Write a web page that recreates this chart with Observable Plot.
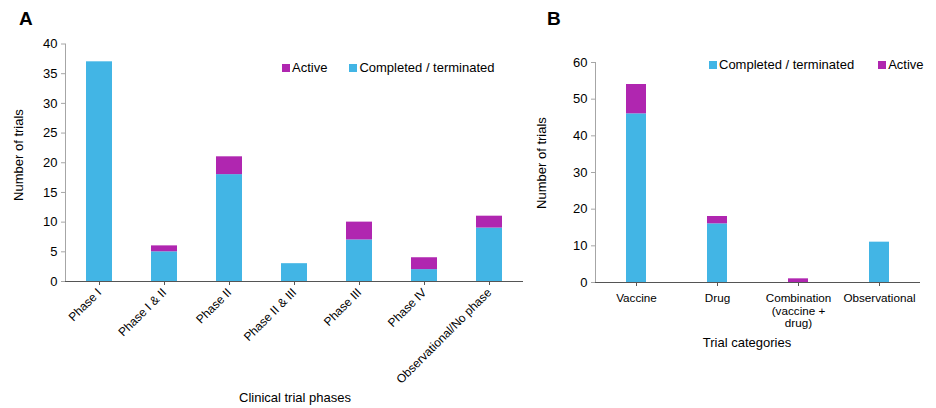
<!DOCTYPE html>
<html>
<head>
<meta charset="utf-8">
<script src="https://cdn.jsdelivr.net/npm/d3@7"></script>
<script src="https://cdn.jsdelivr.net/npm/@observablehq/plot@0.6"></script>
<style>
  body { margin: 0; background: #fff; }
  #wrap { position: relative; width: 936px; height: 408px; font-family: "Liberation Sans", Arial, sans-serif; color: #000; overflow: hidden; }
  .panel { position: absolute; top: 0; }
  .lbl { position: absolute; font-size: 13px; white-space: nowrap; }
  .big { position: absolute; font-weight: bold; font-size: 19px; }
  .sw { display: inline-block; width: 8px; height: 8px; margin-right: 2px; vertical-align: 0px; }
  .ylab { position: absolute; font-size: 13px; transform: translate(-50%, -50%) rotate(-90deg); white-space: nowrap; }
</style>
</head>
<body>
<div id="wrap"></div>
<script>
// Panel A data
const phases = ["Phase I", "Phase I & II", "Phase II", "Phase II & III", "Phase III", "Phase IV", "Observational/No phase"];
const phaseCompleted = [37, 5, 18, 3, 7, 2, 9];
const phaseActive = [0, 1, 3, 0, 3, 2, 2];
const phaseTicks = [0, 5, 10, 15, 20, 25, 30, 35, 40];

// Panel B data
const categories = ["Vaccine", "Drug", "Combination (vaccine + drug)", "Observational"];
const categoryTickLabels = ["Vaccine", "Drug", "Combination\n(vaccine +\ndrug)", "Observational"];
const catCompleted = [46, 16, 0, 11];
const catActive = [8, 2, 1, 0];
const categoryTicks = [0, 10, 20, 30, 40, 50, 60];

const series = ["Completed / terminated", "Active"];
const colors = ["#42B5E5", "#B026B0"];

function longData(cats, comp, act) {
  const out = [];
  cats.forEach((c, i) => {
    out.push({cat: c, series: series[0], value: comp[i]});
    out.push({cat: c, series: series[1], value: act[i]});
  });
  return out;
}

const wrap = document.getElementById("wrap");
const font = "Liberation Sans, Arial, sans-serif";

// Panel A
const dataA = longData(phases, phaseCompleted, phaseActive);
const chartA = Plot.plot({
  width: 530, height: 408,
  marginLeft: 65, marginRight: 7, marginTop: 43.5, marginBottom: 127,
  style: {fontFamily: font, fontSize: "12px", color: "#000", background: "transparent"},
  x: {domain: phases, paddingInner: 0.6, paddingOuter: 0.3, label: null},
  y: {domain: [0, 40], label: null},
  color: {domain: series, range: colors},
  marks: [
    Plot.barY(dataA, {x: "cat", y: "value", fill: "series", order: series}),
    Plot.frame({anchor: "left", stroke: "#a6a6a6"}),
    Plot.axisY({ticks: phaseTicks, tickSize: 4, tickPadding: 4, stroke: "#a6a6a6", fontSize: 13, label: null}),
    Plot.axisX({tickSize: 4, tickPadding: 5, tickRotate: -45, stroke: "#555", label: null, fontSize: 12}),
    Plot.ruleY([0], {stroke: "#555"})
  ]
});
const pa = document.createElement("div");
pa.className = "panel"; pa.style.left = "0px";
pa.appendChild(chartA);
wrap.appendChild(pa);

// Panel B
const dataB = longData(categories, catCompleted, catActive);
const tickMap = new Map(categories.map((c, i) => [c, categoryTickLabels[i]]));
const chartB = Plot.plot({
  width: 416, height: 408,
  marginLeft: 75, marginRight: 16, marginTop: 62, marginBottom: 126,
  style: {fontFamily: font, fontSize: "13px", color: "#000", background: "transparent"},
  x: {domain: categories, paddingInner: 0.75, paddingOuter: 0.375, label: null},
  y: {domain: [0, 60], label: null},
  color: {domain: series, range: colors},
  marks: [
    Plot.barY(dataB, {x: "cat", y: "value", fill: "series", order: series}),
    Plot.frame({anchor: "left", stroke: "#a6a6a6"}),
    Plot.axisY({ticks: categoryTicks, tickSize: 4, tickPadding: 4, stroke: "#a6a6a6", fontSize: 13, label: null}),
    Plot.axisX({tickSize: 4, tickPadding: 6, stroke: "#555", label: null, fontSize: 11.7, lineHeight: 1.1, tickFormat: d => tickMap.get(d)}),
    Plot.ruleY([0], {stroke: "#555"})
  ]
});
const pb = document.createElement("div");
pb.className = "panel"; pb.style.left = "520px";
pb.appendChild(chartB);
wrap.appendChild(pb);

// Overlay text: panel letters, axis titles, legends
function addEl(html, cls, left, top) {
  const d = document.createElement("div");
  d.className = cls; d.innerHTML = html;
  d.style.left = left + "px"; d.style.top = top + "px";
  wrap.appendChild(d);
  return d;
}
addEl("A", "big", 19, 8);
addEl("B", "big", 547, 8);
addEl("Number of trials", "ylab", 18, 155);
addEl("Number of trials", "ylab", 541, 163);
const xa = addEl("Clinical trial phases", "lbl", 295, 390);
xa.style.transform = "translateX(-50%)";
const xb = addEl("Trial categories", "lbl", 747, 335);
xb.style.transform = "translateX(-50%)";

function legend(items, left, top, gap) {
  const d = document.createElement("div");
  d.className = "lbl"; d.style.left = left + "px"; d.style.top = top + "px";
  items.forEach((it, i) => {
    const s = document.createElement("span");
    s.style.marginRight = i < items.length - 1 ? gap + "px" : "0";
    s.innerHTML = `<span class="sw" style="background:${it.color}"></span>${it.name}`;
    d.appendChild(s);
  });
  wrap.appendChild(d);
}
legend([{name: series[1], color: colors[1]}, {name: series[0], color: colors[0]}], 282, 60, 22);
legend([{name: series[0], color: colors[0]}, {name: series[1], color: colors[1]}], 709, 57, 24);
</script>
</body>
</html>
